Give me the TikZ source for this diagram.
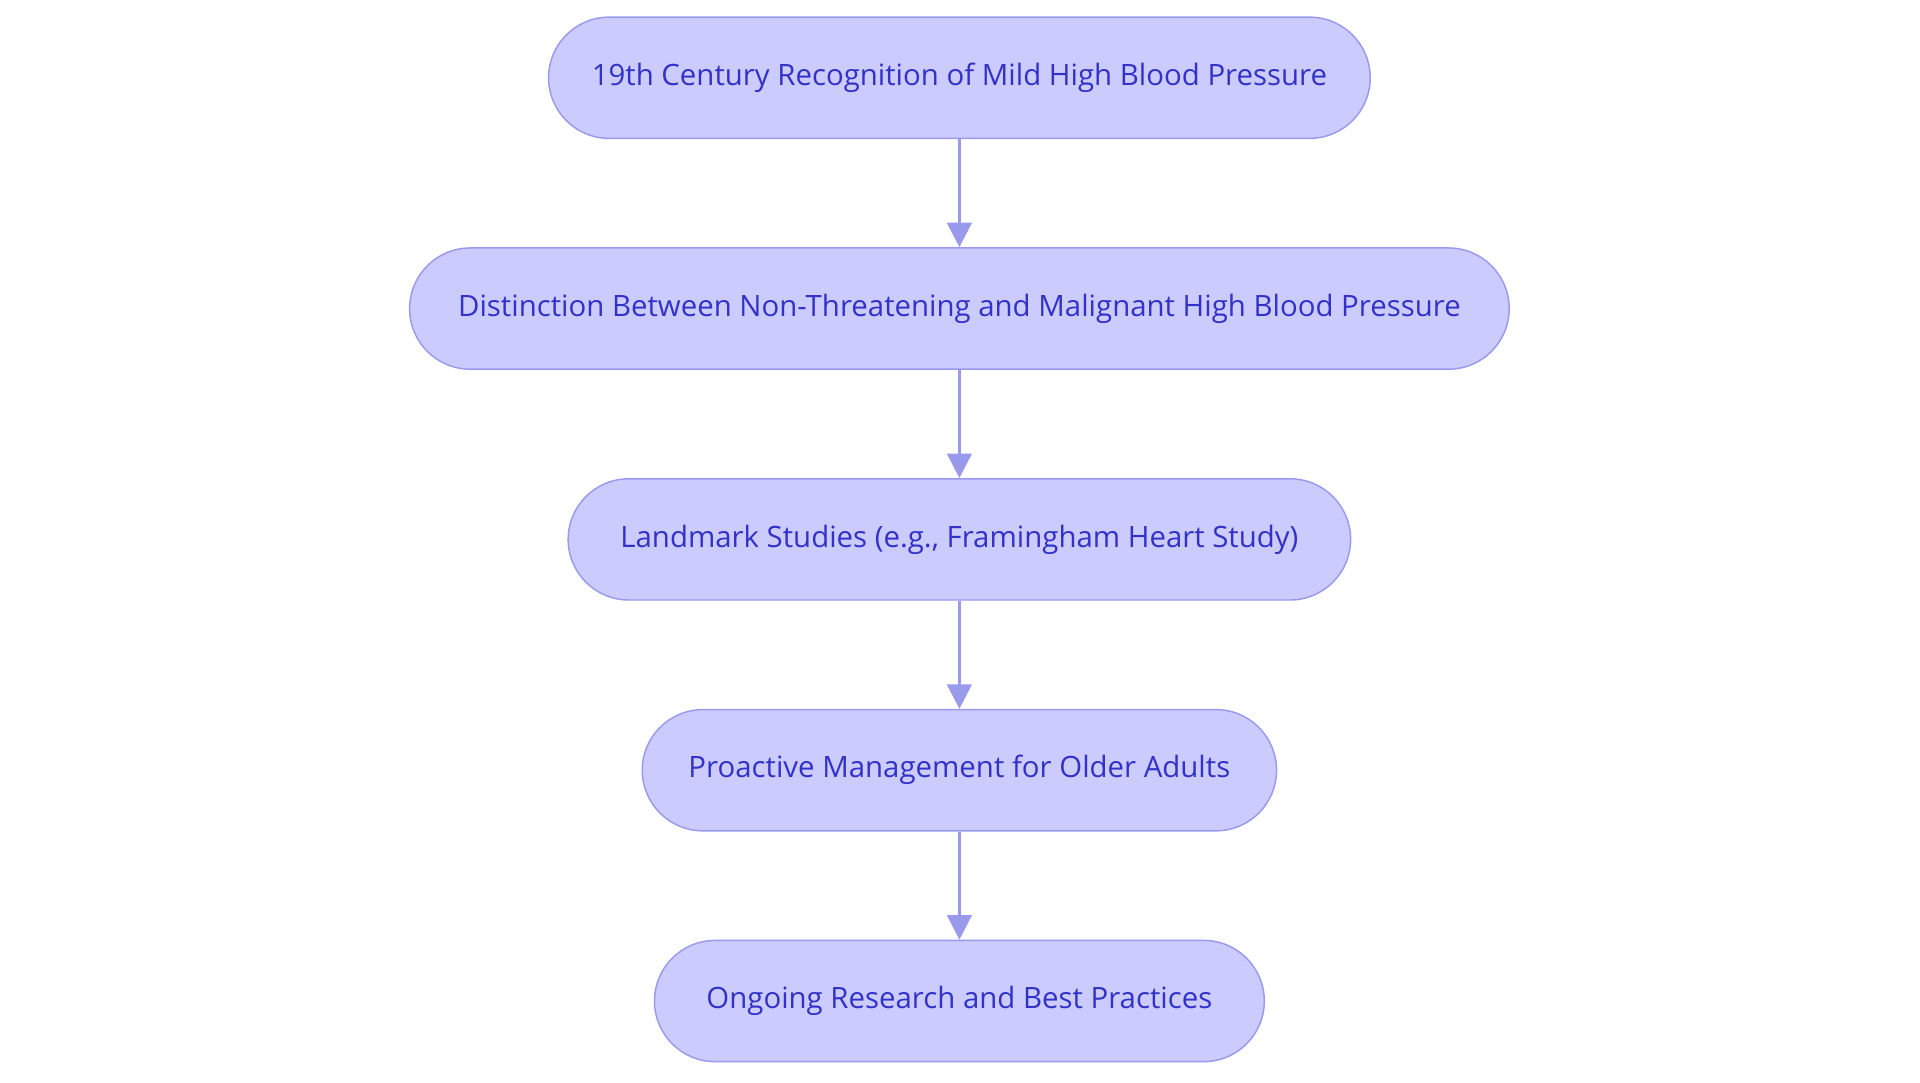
\documentclass[tikz,border=0pt]{standalone}
\usepackage{fontspec}
\setmainfont{Open Sans}
\usetikzlibrary{arrows.meta}
\definecolor{fillc}{HTML}{CBCBFE}
\definecolor{linec}{HTML}{9A9AEC}
\definecolor{textc}{HTML}{3232C8}
\begin{document}
\begin{tikzpicture}[x=1pt,y=1pt,
  box/.style={draw=linec,line width=1.2pt,fill=fillc,rounded corners=49.5pt,minimum height=99pt,inner sep=0pt,text=textc,font=\fontsize{24}{28}\selectfont},
  arr/.style={draw=linec,line width=2.5pt,-{Triangle[length=20pt,width=20pt]}}]
\useasboundingbox (0,0) rectangle (1568,-884);
\node[box,minimum width=671pt] (a) at (783.5,-63.5) {19th Century Recognition of Mild High Blood Pressure};
\node[box,minimum width=898pt] (b) at (783.5,-252) {Distinction Between Non-Threatening and Malignant High Blood Pressure};
\node[box,minimum width=639pt] (c) at (783.5,-440.5) {Landmark Studies (e.g., Framingham Heart Study)};
\node[box,minimum width=518pt] (d) at (783.5,-629) {Proactive Management for Older Adults};
\node[box,minimum width=498pt] (e) at (783.5,-817.5) {Ongoing Research and Best Practices};
\draw[arr] (a) -- (b);
\draw[arr] (b) -- (c);
\draw[arr] (c) -- (d);
\draw[arr] (d) -- (e);
\end{tikzpicture}
\end{document}
